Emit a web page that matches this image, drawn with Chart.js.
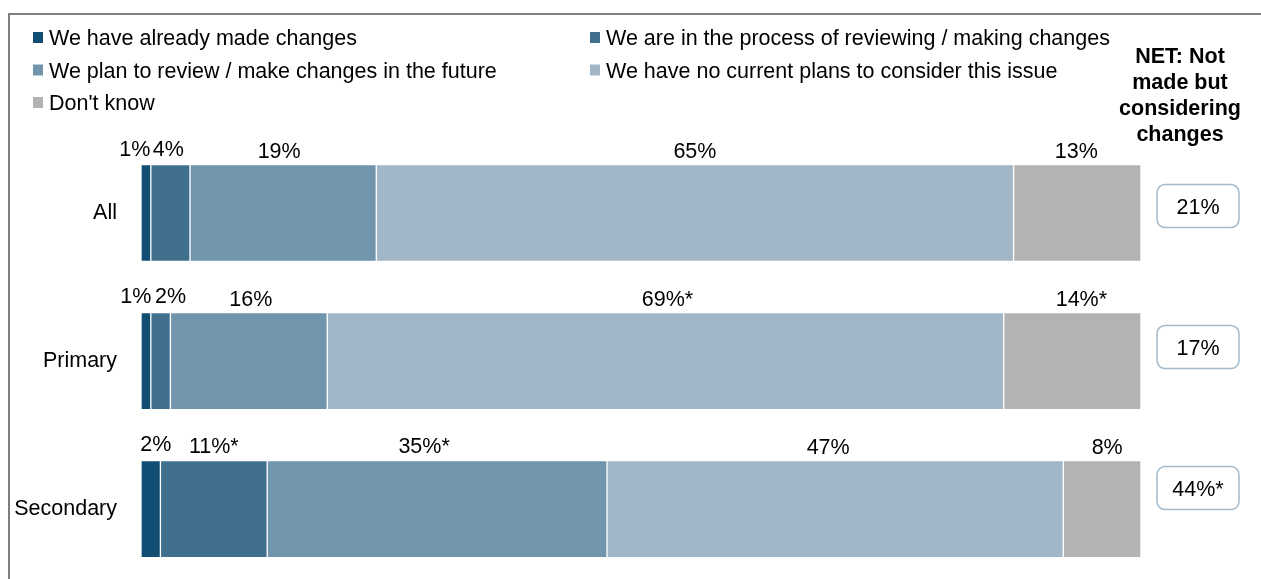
<!DOCTYPE html>
<html>
<head>
<meta charset="utf-8">
<title>Changes made by school phase</title>
<script src="https://cdn.jsdelivr.net/npm/chart.js@4.4.1/dist/chart.umd.min.js"></script>
<style>
  html, body { margin: 0; padding: 0; background: #fff; overflow: hidden; }
  #myChart { display: block; }
</style>
</head>
<body>
<canvas id="myChart" width="1261" height="620"></canvas>
<script>
// Categories and answer options
const phases = ['All', 'Primary', 'Secondary'];
const answers = [
    'We have already made changes',
    'We are in the process of reviewing / making changes',
    'We plan to review / make changes in the future',
    'We have no current plans to consider this issue',
    "Don't know"
];

// Percentages per phase (as labelled)
const alreadyMade = [1, 1, 2];
const reviewing   = [4, 2, 11];
const planFuture  = [19, 16, 35];
const noPlans     = [65, 69, 47];
const dontKnow    = [13, 14, 8];

// Significance markers shown after a label
const alreadyMadeSig = ['', '', ''];
const reviewingSig   = ['', '', '*'];
const planFutureSig  = ['', '', '*'];
const noPlansSig     = ['', '*', ''];
const dontKnowSig    = ['', '*', ''];

// NET: not made but considering changes
const netConsidering = [21, 17, 44];
const netSig = ['', '', '*'];

const colors = ['#124e73', '#41708f', '#7095ad', '#a1b7c7', '#b3b3b3'];

const series = [alreadyMade, reviewing, planFuture, noPlans, dontKnow];
const seriesSig = [alreadyMadeSig, reviewingSig, planFutureSig, noPlansSig, dontKnowSig];

// each bar fills the full width, so scale each row by its own total
const rowTotals = phases.map((_, i) => series.reduce((sum, s) => sum + s[i], 0));

const FONT = '"Liberation Sans", Arial, sans-serif';
Chart.defaults.font.family = FONT;
Chart.defaults.font.size = 21.5;
Chart.defaults.color = '#000';

// small shifts so the narrow segment labels don't collide  [dx, dy]
const labelNudge = [
    [[-11, -2], [-10, -3], [5, -3]],
    [[-2, -2], [10, -3], [0, -1]],
    [[-4, 0], [2, 0], [-13, -1]],
    [[0, 0], [2, 0], [-7, 0]],
    [[-1, 0], [9, 0], [5, 0]]
];

// white background and the grey frame
const framePlugin = {
    id: 'frame',
    beforeDraw(chart) {
        const ctx = chart.ctx;
        ctx.save();
        ctx.fillStyle = '#fff';
        ctx.fillRect(0, 0, chart.width, chart.height);
        ctx.fillStyle = '#7f7f7f';
        ctx.fillRect(8, 13, chart.width, 2);
        ctx.fillRect(8, 13, 2, chart.height);
        ctx.restore();
    }
};

// value labels above each segment
const segmentLabels = {
    id: 'segmentLabels',
    afterDatasetsDraw(chart) {
        const ctx = chart.ctx;
        ctx.save();
        ctx.font = '21.5px ' + FONT;
        ctx.fillStyle = '#000';
        ctx.textAlign = 'center';
        ctx.textBaseline = 'alphabetic';
        chart.data.datasets.forEach((ds, d) => {
            chart.getDatasetMeta(d).data.forEach((bar, i) => {
                const text = series[d][i] + '%' + seriesSig[d][i];
                const [dx, dy] = labelNudge[d][i];
                const cx = (bar.base + bar.x) / 2 + dx;
                const top = bar.y - bar.height / 2;
                ctx.fillText(text, cx, top - 7 + dy);
            });
        });
        ctx.restore();
    }
};

// two-column legend in the top-left
const legendBlock = {
    id: 'legendBlock',
    afterDraw(chart) {
        const ctx = chart.ctx;
        const colX = [33, 590];
        const rowY = [45, 77.5, 110];
        ctx.save();
        ctx.font = '21.5px ' + FONT;
        ctx.textAlign = 'left';
        ctx.textBaseline = 'alphabetic';
        answers.forEach((name, i) => {
            const x = colX[i % 2];
            const y = rowY[Math.floor(i / 2)];
            ctx.fillStyle = colors[i];
            ctx.fillRect(x, y - 13, 10, 11);
            ctx.fillStyle = '#000';
            ctx.fillText(name, x + 16, y);
        });
        ctx.restore();
    }
};

// NET column: header and boxed values
const netColumn = {
    id: 'netColumn',
    afterDraw(chart) {
        const ctx = chart.ctx;
        const yScale = chart.scales.y;
        ctx.save();
        ctx.fillStyle = '#000';
        ctx.textAlign = 'center';
        ctx.textBaseline = 'alphabetic';
        ctx.font = 'bold 21.5px ' + FONT;
        ['NET: Not', 'made but', 'considering', 'changes'].forEach((line, i) => {
            ctx.fillText(line, 1180, 63 + i * 26);
        });

        ctx.font = '21.5px ' + FONT;
        netConsidering.forEach((v, i) => {
            const cy = yScale.getPixelForValue(i) - 7 - 7 * i;
            const x = 1157, w = 82, h = 43;
            ctx.beginPath();
            ctx.roundRect(x, cy - h / 2, w, h, 8);
            ctx.fillStyle = '#fff';
            ctx.fill();
            ctx.lineWidth = 1.5;
            ctx.strokeStyle = '#a2bbcc';
            ctx.stroke();
            ctx.fillStyle = '#000';
            ctx.fillText(v + '%' + netSig[i], x + w / 2, cy + 8);
        });
        ctx.restore();
    }
};

const chartX = document.getElementById('myChart').getContext('2d');
const chart = new Chart(chartX, {
    type: 'bar',
    data: {
        labels: phases,
        datasets: answers.map((name, d) => ({
            label: name,
            data: series[d].map((v, i) => v / rowTotals[i] * 100),
            backgroundColor: colors[d],
            borderColor: 'rgba(255,255,255,0.45)',
            borderWidth: 1,
            borderSkipped: false,
            barThickness: 97
        }))
    },
    options: {
        indexAxis: 'y',
        responsive: false,
        animation: false,
        layout: { padding: { top: 139, bottom: 4, right: 120, left: 0 } },
        plugins: {
            legend: { display: false },
            tooltip: { enabled: false }
        },
        scales: {
            x: {
                stacked: true,
                display: false,
                min: 0,
                max: 100
            },
            y: {
                stacked: true,
                grid: { display: false, drawTicks: false },
                border: { display: false },
                ticks: { padding: 24, color: '#000', font: { size: 21.5 } },
                afterFit(scale) { scale.width = 141; }
            }
        }
    },
    plugins: [framePlugin, segmentLabels, legendBlock, netColumn]
});
</script>
</body>
</html>
